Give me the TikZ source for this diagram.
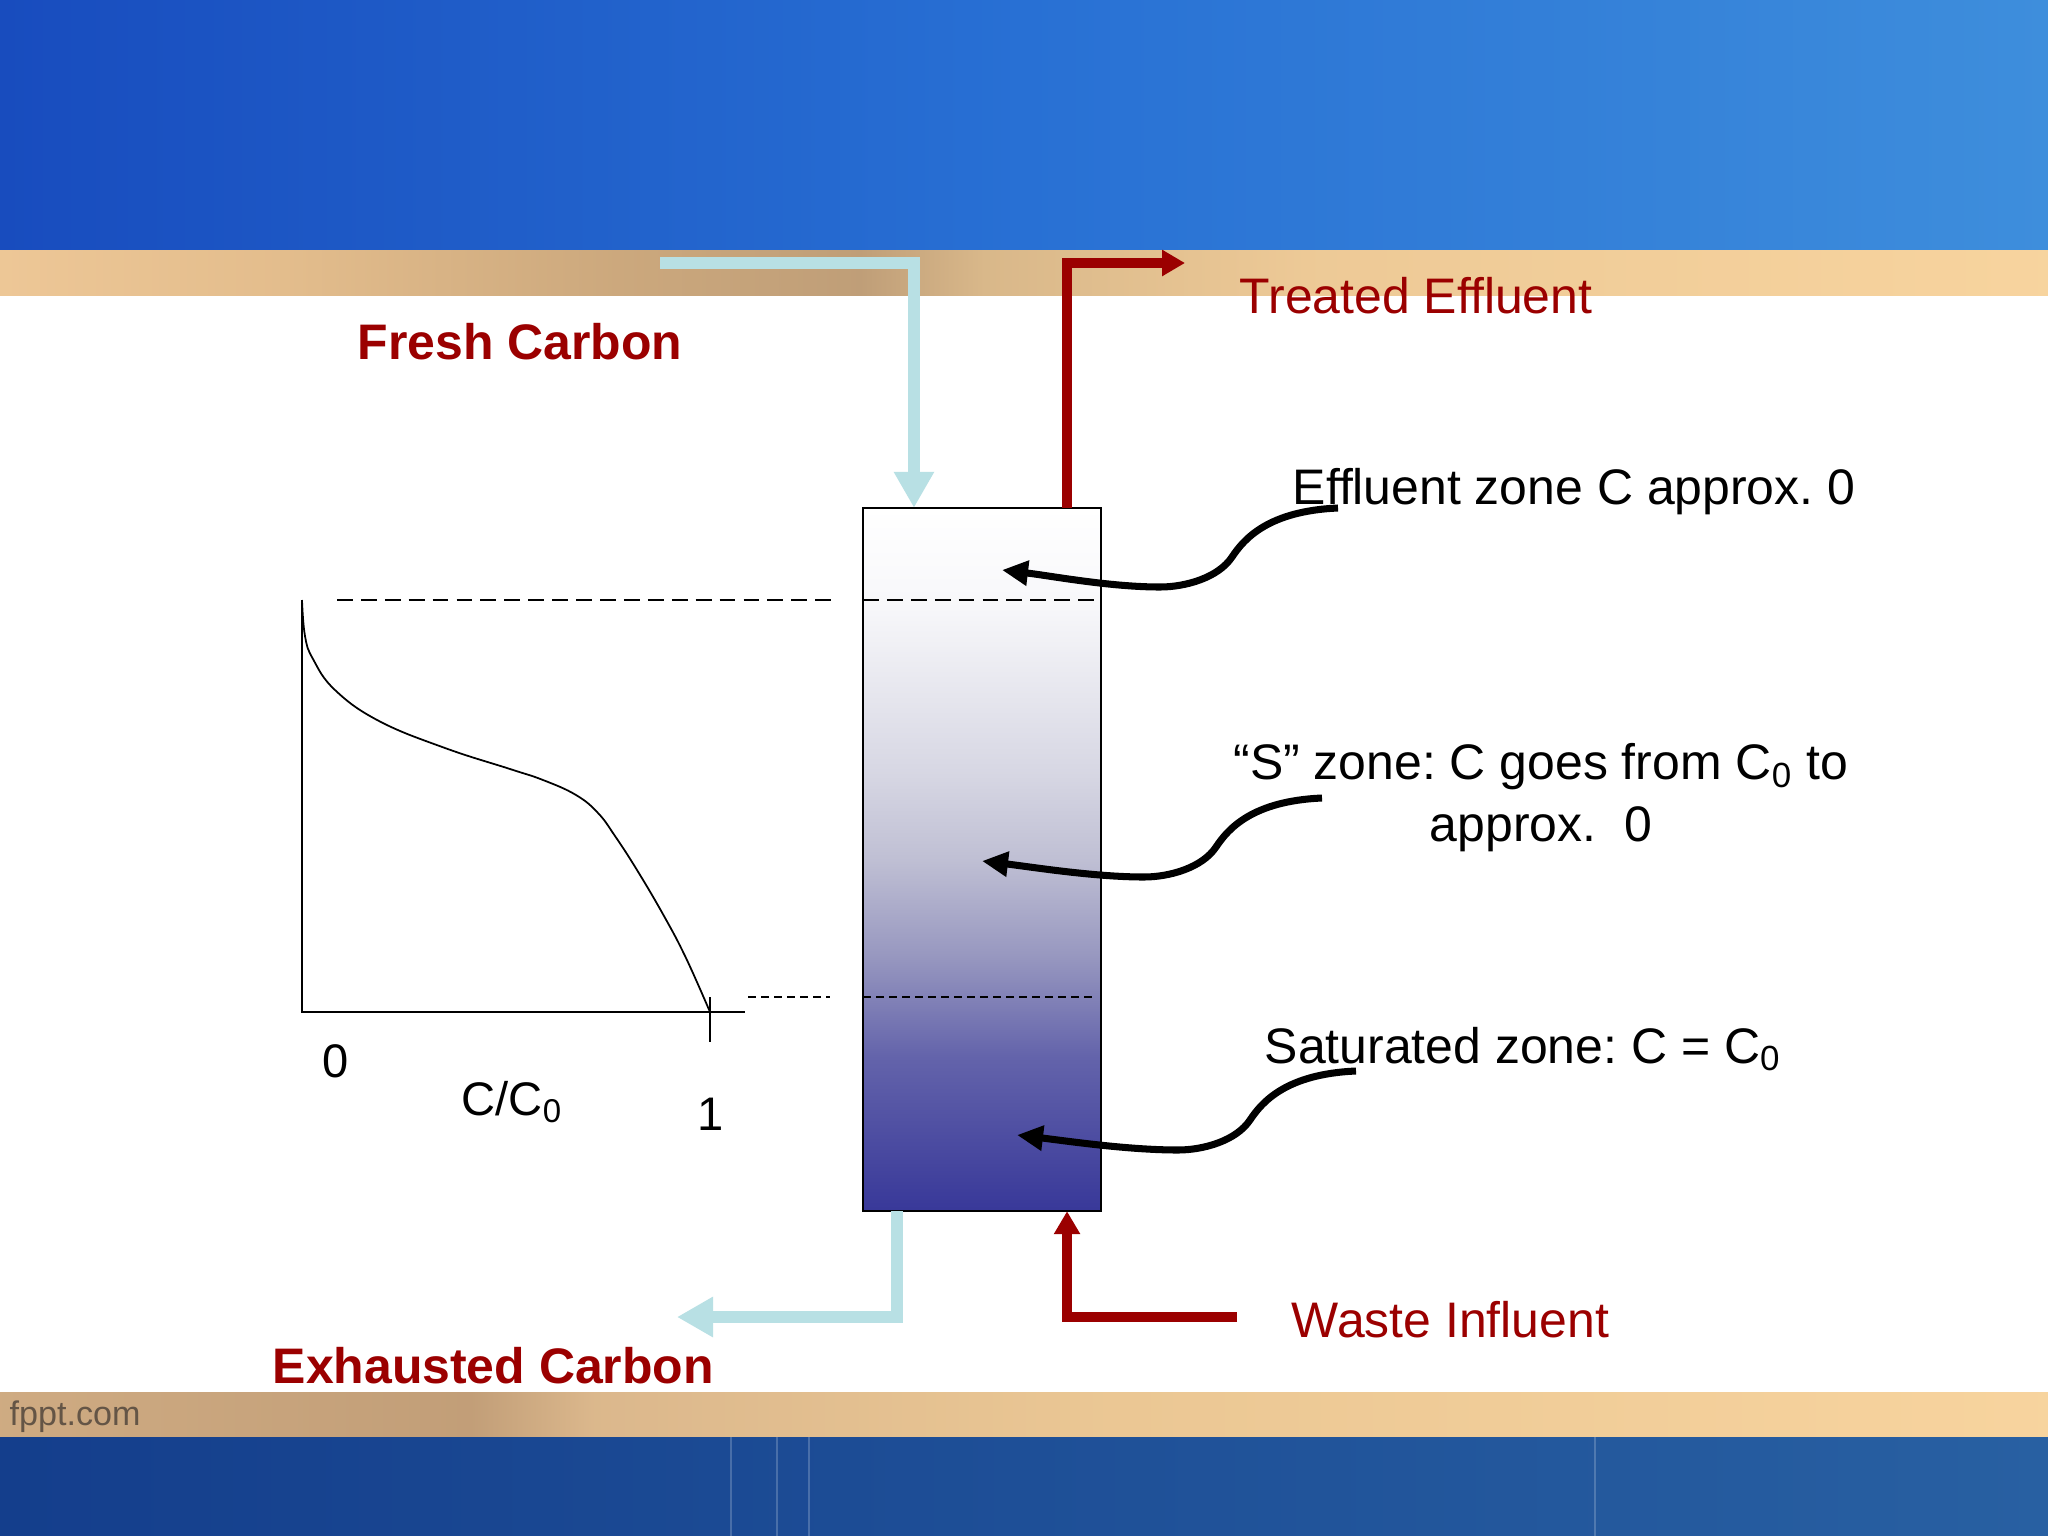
\documentclass[tikz,border=0pt]{standalone}
\usepackage{fontspec}
\setmainfont{Liberation Sans}
\usetikzlibrary{arrows.meta}
\frenchspacing

\definecolor{flowred}{RGB}{155,0,0}
\definecolor{carbonblue}{RGB}{184,224,228}
\definecolor{footgray}{RGB}{100,85,70}
\definecolor{bandblueL}{RGB}{24,76,190}
\definecolor{bandblueM}{RGB}{40,112,212}
\definecolor{bandblueR}{RGB}{62,142,220}
\definecolor{footblueL}{RGB}{20,62,140}
\definecolor{footblueR}{RGB}{40,96,162}

\newcommand{\slidefont}{\fontsize{14.2pt}{17.4pt}\selectfont}
\newcommand{\axisfont}{\fontsize{13.4pt}{16pt}\selectfont}
\newcommand{\footfont}{\fontsize{9.7pt}{11pt}\selectfont}

\pgfdeclarehorizontalshading{tantop}{100bp}{rgb(0bp)=(0.93,0.78,0.59); rgb(25bp)=(0.93,0.78,0.59); rgb(32bp)=(0.89,0.74,0.55); rgb(40bp)=(0.80,0.66,0.49); rgb(46bp)=(0.75,0.62,0.47); rgb(49bp)=(0.85,0.72,0.54); rgb(57bp)=(0.93,0.79,0.59); rgb(75bp)=(0.97,0.83,0.62); rgb(100bp)=(0.97,0.83,0.62)}
\pgfdeclarehorizontalshading{tanbottom}{100bp}{rgb(0bp)=(0.81,0.67,0.51); rgb(25bp)=(0.81,0.67,0.51); rgb(36.5bp)=(0.76,0.62,0.47); rgb(39.5bp)=(0.86,0.72,0.55); rgb(52bp)=(0.92,0.78,0.58); rgb(75bp)=(0.97,0.83,0.62); rgb(100bp)=(0.97,0.83,0.62)}
\pgfdeclareverticalshading{bedshade}{100bp}{rgb(0bp)=(0.22,0.22,0.6); rgb(25bp)=(0.22,0.22,0.6); rgb(36bp)=(0.39,0.39,0.67); rgb(43bp)=(0.59,0.59,0.75); rgb(50bp)=(0.75,0.75,0.83); rgb(56bp)=(0.84,0.84,0.89); rgb(68bp)=(0.97,0.97,0.98); rgb(75bp)=(1,1,1); rgb(100bp)=(1,1,1)}

\begin{document}
\begin{tikzpicture}[x=0.01cm, y=-0.01cm,
    bedcolumn/.style={draw, line width=0.6pt, shade, shading=bedshade, minimum width=2.38cm, minimum height=7.03cm, inner sep=0pt, outer sep=0pt},
    carbonflow/.style={carbonblue, line width=3.4pt, -{Triangle[length=0.36cm, width=0.38cm]}},
    waterflow/.style={flowred, line width=2.6pt, -{Triangle[length=0.23cm, width=0.25cm]}},
    zonepointer/.style={line width=2pt, -{Triangle[length=0.26cm, width=0.24cm]}},
    flowlabel/.style={text=flowred, inner sep=0pt, anchor=base west, font=\slidefont},
    zonelabel/.style={inner sep=0pt, anchor=base west, font=\slidefont},
    axislabel/.style={inner sep=0pt, anchor=base, font=\axisfont},
    longdash/.style={line width=0.6pt, dash pattern=on 4.5pt off 2.3pt},
    shortdash/.style={line width=0.6pt, dash pattern=on 2.3pt off 1.4pt}]
  \useasboundingbox (0,0) rectangle (2048,1536);

  % slide background
  \fill[white] (0,0) rectangle (2048,1536);
  \shade[left color=bandblueL, right color=bandblueR, middle color=bandblueM] (0,0) rectangle (2048,250);
  \shade[shading=tantop] (0,250) rectangle (2048,295);
  \shade[shading=tanbottom] (0,1392) rectangle (2048,1437);
  \shade[left color=footblueL, right color=footblueR] (0,1437) rectangle (2048,1536);
  \foreach \lx in {731,777,809,1595}
    \draw[white, opacity=0.2, line width=0.8pt] (\lx,1437) -- (\lx,1536);
  \node[inner sep=0pt, anchor=base west, text=footgray, font=\footfont] (site) at (9,1425) {fppt.com};

  % carbon bed
  \node[bedcolumn] (column) at (982,859.5) {};
  \draw[longdash] (863,600) -- (1101,600);
  \draw[shortdash] (863,997) -- (1093,997);

  % breakthrough curve
  \draw[line width=0.6pt] (302,600) -- (302,1012) -- (745,1012);
  \draw[line width=0.6pt] (710,997) -- (710,1042);
  \draw[line width=0.5pt] plot[smooth, tension=0.7] coordinates {(302,600) (305,636) (313,659) (335,690) (379,721) (445,748) (510,769) (543,780) (576,795) (598,813) (615,836) (637,870) (664,916) (686,958) (710,1012)};
  \draw[longdash] (337,600) -- (831,600);
  \draw[shortdash] (748,997) -- (830,997);
  \node[axislabel] (zero) at (336,1077) {0};
  \node[axislabel, anchor=base west] (ratio) at (461,1115) {C/C\textsubscript{0}};
  \node[axislabel] (one) at (711,1130) {1};

  % flows in and out
  \coordinate (fresh-in) at (660,263);
  \draw[carbonflow] (fresh-in) -| ([xshift=0.51cm]column.north west);
  \coordinate (spent-out) at (677,1317);
  \draw[carbonflow] ([xshift=0.34cm]column.south west) |- (spent-out);
  \coordinate (treated-out) at (1185,263);
  \draw[waterflow] ([xshift=2.04cm]column.north west) |- (treated-out);
  \coordinate (waste-in) at (1237,1317);
  \draw[waterflow] (waste-in) -| ([xshift=2.04cm]column.south west);

  \node[flowlabel, font=\slidefont\bfseries] (fresh) at (357,359) {Fresh Carbon};
  \node[flowlabel, font=\slidefont\bfseries] (spent) at (272,1383) {Exhausted Carbon};
  \node[flowlabel] (treated) at (1239,313) {Treated Effluent};
  \node[flowlabel] (waste) at (1291,1337) {Waste Influent};

  % zones
  \node[zonelabel] (effzone) at (1292,504) {Effluent zone C approx. 0};
  \node[zonelabel, anchor=base, align=center] (szone) at (1541,841) {“S” zone: C goes from C\textsubscript{0} to\\approx.\ \ 0};
  \node[zonelabel] (satzone) at (1264,1063) {Saturated zone: C = C\textsubscript{0}};

  \coordinate (eff-s) at (1338,508);
  \coordinate (eff-p) at (1232,557);
  \coordinate (eff-m) at (1160,587);
  \coordinate (eff-t) at (1002,570);
  \coordinate (sz-s) at (1322,798);
  \coordinate (sz-p) at (1216,847);
  \coordinate (sz-m) at (1144,877);
  \coordinate (sz-t) at (982,861);
  \coordinate (sat-s) at (1356,1071);
  \coordinate (sat-p) at (1250,1120);
  \coordinate (sat-m) at (1178,1150);
  \coordinate (sat-t) at (1017,1135);
  \foreach \z in {eff, sz, sat}
    \draw[zonepointer] (\z-s) .. controls +(-70,3) and +(12,-18) .. (\z-p) .. controls +(-14,21) and +(25,0) .. (\z-m) .. controls +(-50,0) and +(50,6) .. (\z-t);
\end{tikzpicture}
\end{document}
